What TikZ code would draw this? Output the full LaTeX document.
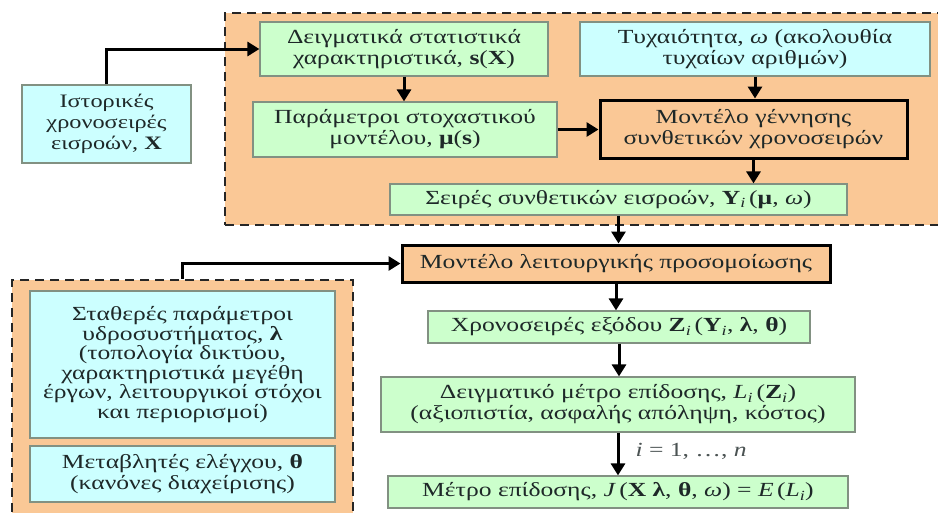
\documentclass[tikz,border=0pt]{standalone}
\usepackage{fontspec}
\setmainfont{Liberation Serif}[FakeStretch=1.28]
\usetikzlibrary{arrows.meta,fit}
\definecolor{orfill}{RGB}{250,200,150}
\definecolor{grfill}{RGB}{204,255,204}
\definecolor{cyfill}{RGB}{204,255,255}
\definecolor{bordgray}{RGB}{130,145,130}
\definecolor{txt}{RGB}{30,40,40}
\tikzset{
  shell/.style={rectangle, inner sep=0pt},
  grbox/.style={shell, fill=grfill, draw=bordgray, line width=1.2pt},
  cybox/.style={shell, fill=cyfill, draw=bordgray, line width=1.2pt},
  keybox/.style={shell, fill=orfill, draw=black, line width=3pt},
  grpbox/.style={shell, fill=orfill, draw=black!85, line width=2.5pt, dash pattern=on 9pt off 6pt},
  txtnode/.style={align=center, inner sep=0pt, anchor=center, text=txt, font=\fontsize{20}{21}\selectfont},
  arr/.style={line width=3pt, -{Triangle[length=12pt,width=14pt]}},
  lbl/.style={text=txt!80, font=\fontsize{20}{21}\selectfont, inner sep=0pt},
}
\begin{document}
\begin{tikzpicture}[x=1pt,y=-1pt]
\useasboundingbox (0,0) rectangle (938,512);
\clip (0,0) rectangle (938,512);
\fill[white] (0,0) rectangle (938,512);
% groups
\node[grpbox, fit={(225,13) (952,225)}] (topgrp) {};
\node[grpbox, fit={(12,280) (353,530)}] (leftgrp) {};
% boxes
\node[cybox, fit={(22,85) (191,163)}] (hist) {};
\node[grbox, fit={(260,22) (548,76)}] (stats) {};
\node[cybox, fit={(580,22) (930,76)}] (rand) {};
\node[grbox, fit={(253,102) (557,157)}] (param) {};
\node[keybox, fit={(600,100) (907,158)}] (gen) {};
\node[grbox, fit={(390,184) (847,215)}] (synth) {};
\node[keybox, fit={(402,245) (830,282)}] (sim) {};
\node[grbox, fit={(428,311) (810,343)}] (out) {};
\node[grbox, fit={(381,377) (855,432)}] (perf) {};
\node[grbox, fit={(388,476) (848,508)}] (meas) {};
\node[cybox, fit={(30,291) (335,438)}] (const) {};
\node[cybox, fit={(30,446) (335,502)}] (ctrl) {};
% texts
\node[txtnode, font=\fontsize{19}{21}\selectfont] (thist) at (hist.center) {Ιστορικές\\χρονοσειρές\\εισροών, \textbf{X}};
\node[txtnode] (tstats) at (stats.center) {Δειγματικά στατιστικά\\χαρακτηριστικά, \textbf{s}(\textbf{X})};
\node[txtnode] (trand) at (rand.center) {Τυχαιότητα, \textit{ω} (ακολουθία\\τυχαίων αριθμών)};
\node[txtnode] (tparam) at (param.center) {Παράμετροι στοχαστικού\\μοντέλου, \textbf{μ}(\textbf{s})};
\node[txtnode] (tgen) at (gen.center) {Μοντέλο γέννησης\\συνθετικών χρονοσειρών};
\node[txtnode] (tsynth) at (synth.center) {Σειρές συνθετικών εισροών, \textbf{Y}\textsubscript{\textit{i}}\,(\textbf{μ}, \textit{ω})};
\node[txtnode] (tsim) at (sim.center) {Μοντέλο λειτουργικής προσομοίωσης};
\node[txtnode] (tout) at (out.center) {Χρονοσειρές εξόδου \textbf{Z}\textsubscript{\textit{i}}\,(\textbf{Y}\textsubscript{\textit{i}}, \textbf{λ}, \textbf{θ})};
\node[txtnode] (tperf) at (perf.center) {Δειγματικό μέτρο επίδοσης, \textit{L}\textsubscript{\textit{i}}\,(\textbf{Z}\textsubscript{\textit{i}})\\(αξιοπιστία, ασφαλής απόληψη, κόστος)};
\node[txtnode] (tmeas) at (meas.center) {Μέτρο επίδοσης, \textit{J}\,(\textbf{X} \textbf{λ}, \textbf{θ}, \textit{ω}) = \textit{E}\,(\textit{L}\textsubscript{\textit{i}})};
\node[txtnode, font=\fontsize{20}{19.5}\selectfont] (tconst) at (const.center) {Σταθερές παράμετροι\\υδροσυστήματος, \textbf{λ}\\(τοπολογία δικτύου,\\χαρακτηριστικά μεγέθη\\έργων, λειτουργικοί στόχοι\\και περιορισμοί)};
\node[txtnode] (tctrl) at (ctrl.center) {Μεταβλητές ελέγχου, \textbf{θ}\\(κανόνες διαχείρισης)};
% connectors
\draw[arr] (hist.north) |- (stats.west);
\draw[arr] (stats.south) -- (stats.south |- param.north);
\draw[arr] (rand.south) -- (rand.south |- gen.north);
\draw[arr] (param.east) -- (param.east -| gen.west);
\draw[arr] (gen.south) -- (gen.south |- synth.north);
\draw[arr] (synth.south) -- (synth.south |- sim.north);
\draw[arr] (const.north |- leftgrp.north) |- (sim.west);
\draw[arr] (sim.south) -- (sim.south |- out.north);
\draw[arr] (out.south) -- (out.south |- perf.north);
\draw[arr] (perf.south) -- (perf.south |- meas.north) node[lbl, pos=0.45, anchor=west, xshift=16pt] (ilabel) {\textit{i} = 1, …, \textit{n}};
\end{tikzpicture}
\end{document}
